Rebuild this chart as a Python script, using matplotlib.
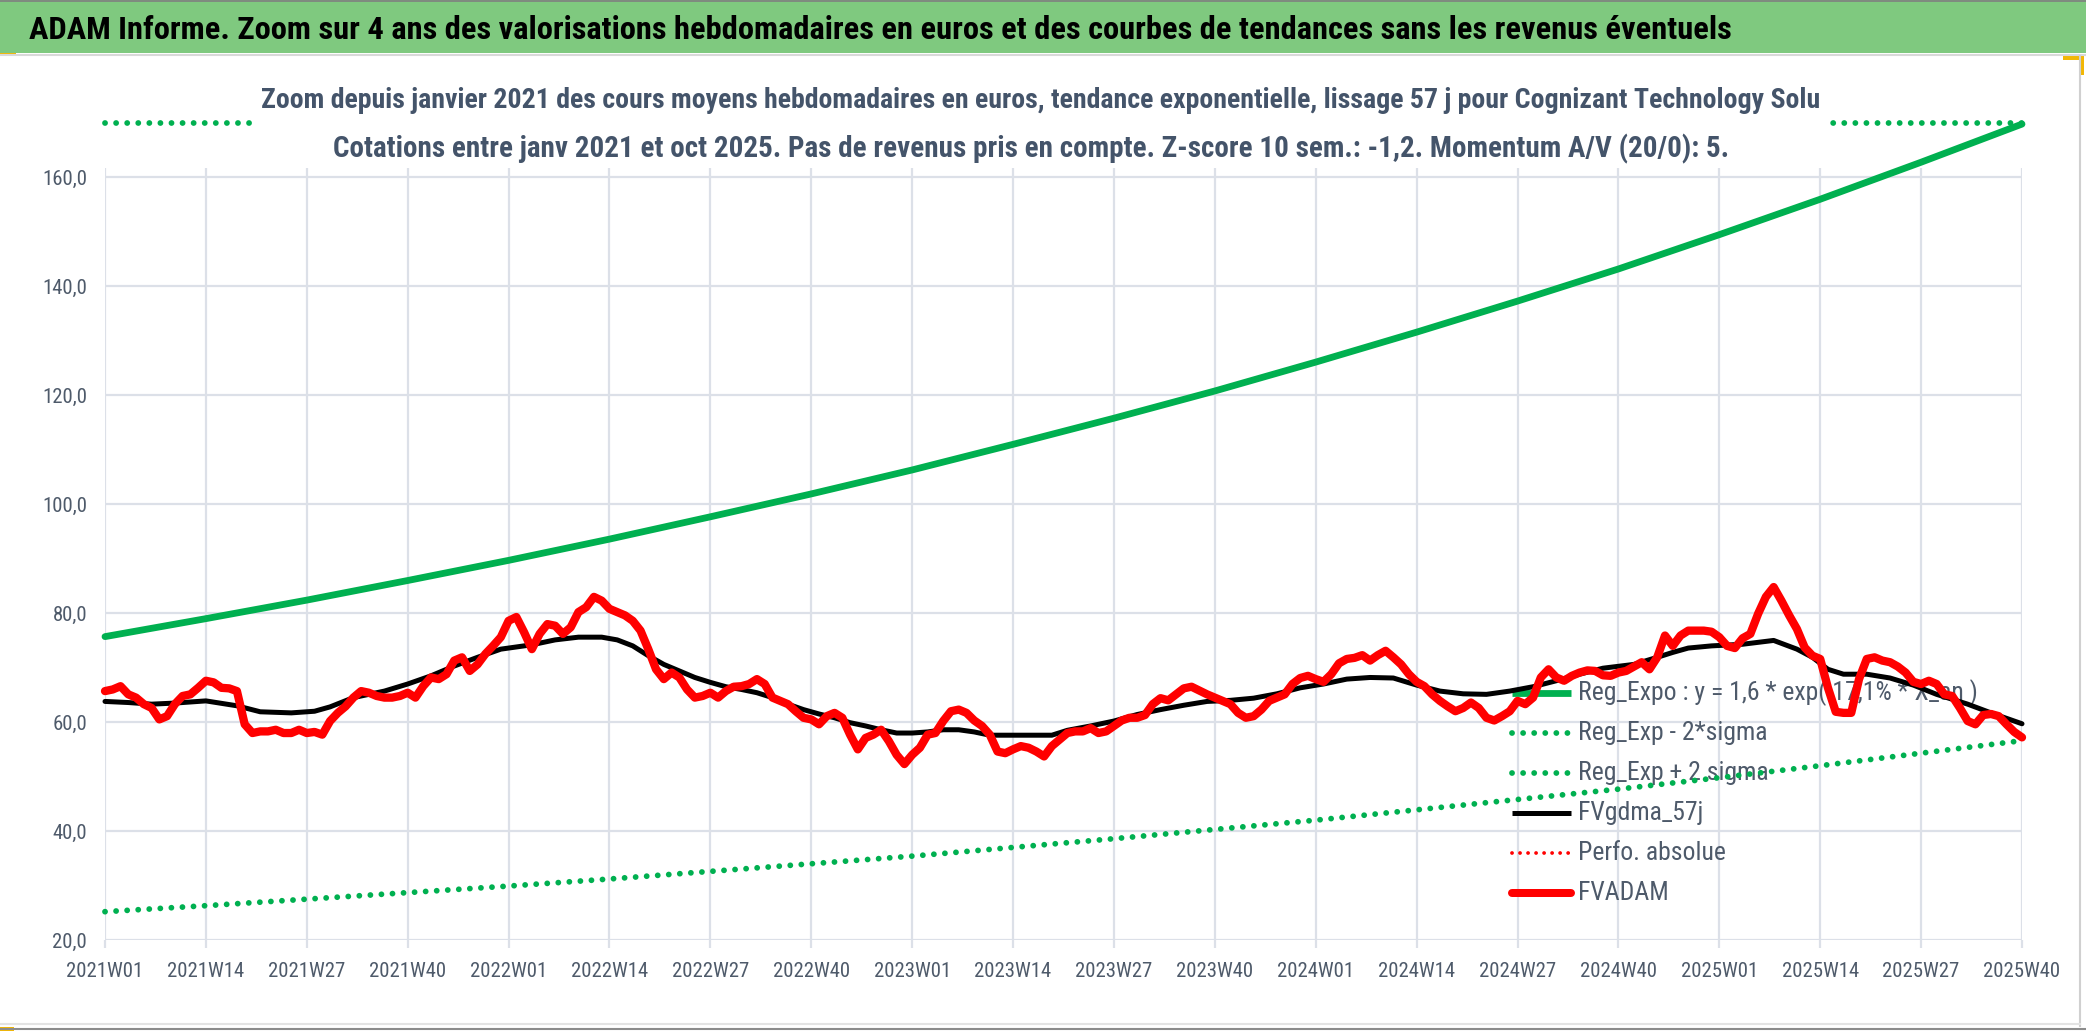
import numpy as np
import matplotlib
matplotlib.use("Agg")
import matplotlib.pyplot as plt
from matplotlib import font_manager as fm
from matplotlib.lines import Line2D
from matplotlib.patches import Rectangle

# ---------------- data ----------------
tick_labels = ["2021W01", "2021W14", "2021W27", "2021W40",
               "2022W01", "2022W14", "2022W27", "2022W40",
               "2023W01", "2023W14", "2023W27", "2023W40",
               "2024W01", "2024W14", "2024W27", "2024W40",
               "2025W01", "2025W14", "2025W27", "2025W40"]
tick_weeks = [0, 13, 26, 39, 52, 65, 78, 91, 104, 117, 130, 143,
              156, 169, 182, 195, 208, 221, 234, 247]

# exponential trend and +/- 2 sigma bands, read at each tick
reg_expo = [75.7, 79.0, 82.4, 86.0, 89.7, 93.6, 97.7, 101.9, 106.3, 111.0,
            115.8, 120.8, 126.1, 131.6, 137.3, 143.2, 149.5, 156.0, 162.8, 169.8]
reg_minus = [25.2, 26.3, 27.5, 28.7, 29.9, 31.2, 32.6, 34.0, 35.4, 37.0,
             38.6, 40.3, 42.0, 43.9, 45.8, 47.7, 49.8, 52.0, 54.3, 56.6]
reg_plus = [227, 237, 247, 258, 269, 281, 293, 306, 319, 333,
            347, 362, 378, 395, 412, 430, 449, 468, 488, 509]

# weekly average price (248 weeks, 2021W01 .. 2025W40)
fvadam = [
    65.7, 66.0, 66.6, 65.1, 64.5, 63.3, 62.6, 60.5, 61.1, 63.3, 64.8, 65.1, 66.3,
    67.6, 67.3, 66.3, 66.2, 65.7, 59.6, 58.0, 58.3, 58.3, 58.6, 58.0, 58.0, 58.6,
    58.0, 58.2, 57.7, 60.2, 61.7, 62.9, 64.5, 65.7, 65.4, 64.8, 64.5, 64.5, 64.8,
    65.4, 64.5, 66.6, 68.2, 67.9, 68.8, 71.3, 71.9, 69.4, 70.6, 72.5, 74.0, 75.6,
    78.6, 79.3, 76.5, 73.4, 76.2, 78.0, 77.7, 76.2, 77.4, 80.2, 81.1, 83.0, 82.3,
    80.8, 80.2, 79.6, 78.6, 76.8, 73.4, 69.7, 67.9, 69.1, 68.2, 66.0, 64.5, 64.8,
    65.4, 64.5, 65.7, 66.5, 66.6, 67.0, 67.9, 67.0, 64.5, 63.9, 63.3, 62.0, 60.8,
    60.5, 59.6, 61.1, 61.7, 60.8, 57.7, 55.0, 57.1, 57.7, 58.6, 56.5, 54.0, 52.3,
    54.0, 55.3, 57.7, 58.0, 60.2, 62.0, 62.3, 61.7, 60.3, 59.3, 57.7, 54.6, 54.3,
    55.0, 55.6, 55.3, 54.6, 53.7, 55.6, 56.8, 58.0, 58.3, 58.3, 58.9, 58.0, 58.3,
    59.3, 60.3, 60.8, 60.8, 61.3, 63.3, 64.4, 64.0, 65.1, 66.2, 66.5, 65.8, 65.1,
    64.5, 63.9, 63.3, 61.7, 60.8, 61.1, 62.3, 63.9, 64.5, 65.1, 67.0, 68.1, 68.5,
    67.9, 67.4, 68.8, 70.8, 71.6, 71.8, 72.3, 71.3, 72.3, 73.1, 71.9, 70.6, 68.8,
    67.4, 66.6, 65.1, 63.9, 62.9, 62.0, 62.6, 63.6, 62.6, 60.8, 60.3, 61.1, 62.0,
    63.9, 63.3, 64.5, 68.2, 69.7, 68.2, 67.6, 68.5, 69.1, 69.5, 69.4, 68.6, 68.5,
    69.1, 69.4, 70.2, 71.0, 69.7, 71.9, 75.9, 74.0, 75.9, 76.8, 76.8, 76.8, 76.6,
    75.6, 74.0, 73.6, 75.4, 76.2, 79.9, 83.0, 84.8, 82.3, 79.6, 77.1, 73.7, 72.2,
    71.6, 66.3, 61.9, 61.7, 61.7, 67.9, 71.6, 71.9, 71.3, 71.0, 70.2, 69.1, 67.4,
    67.0, 67.6, 67.0, 65.1, 64.8, 62.6, 60.2, 59.6, 61.3, 61.5, 61.1, 59.6, 58.2,
    57.2]

# 57-day smoothed average (read at sample weeks)
gdma_weeks = [0, 3, 6, 9, 13, 17, 20, 24, 27, 29, 32, 36, 39, 42, 45, 48, 51, 55,
              58, 61, 64, 66, 68, 70, 72, 74, 76, 78, 80, 82, 84, 86, 88, 90, 92,
              94, 96, 98, 100, 102, 104, 106, 108, 110, 112, 114, 118, 122, 124,
              127, 130, 133, 136, 139, 142, 145, 148, 151, 154, 157, 160, 163,
              166, 169, 172, 175, 178, 181, 184, 187, 190, 193, 197, 200, 202,
              204, 207, 211, 215, 218, 220, 222, 224, 227, 230, 233, 236, 240,
              243, 246, 247]
gdma_vals = [63.8, 63.6, 63.3, 63.5, 63.9, 63.0, 61.9, 61.7, 62.0, 62.8, 64.5, 65.7,
             67.0, 68.5, 70.3, 71.9, 73.4, 74.2, 75.1, 75.6, 75.6, 75.1, 74.0, 72.2,
             70.6, 69.4, 68.2, 67.3, 66.5, 66.0, 65.4, 64.5, 63.3, 62.3, 61.5, 60.8,
             59.9, 59.3, 58.6, 58.0, 58.0, 58.2, 58.6, 58.6, 58.2, 57.6, 57.6, 57.6,
             58.5, 59.3, 60.2, 61.4, 62.3, 63.1, 63.8, 64.0, 64.4, 65.2, 66.3, 67.0,
             67.9, 68.2, 68.1, 66.8, 65.7, 65.2, 65.1, 65.7, 66.5, 67.6, 68.8, 69.9,
             70.6, 71.9, 72.8, 73.6, 74.0, 74.3, 75.0, 73.4, 71.9, 69.7, 68.8, 68.8,
             68.1, 66.8, 65.1, 63.3, 61.7, 60.2, 59.7]

perfo_weeks = []   # "Perfo. absolue" : no visible point in this zoom
perfo_vals = []

y_ticks = [20, 40, 60, 80, 100, 120, 140, 160]

legend_labels = ["Reg_Expo : y = 1,6 * exp( 17,1% * X_an )",
                 "Reg_Exp - 2*sigma",
                 "Reg_Exp + 2 sigma",
                 "FVgdma_57j",
                 "Perfo. absolue",
                 "FVADAM"]

title = ("ADAM Informe. Zoom sur 4 ans des valorisations hebdomadaires en euros "
         "et des courbes de tendances sans les revenus éventuels")
sub1 = ("Zoom depuis janvier 2021 des cours moyens hebdomadaires en euros, tendance "
        "exponentielle, lissage 57 j pour Cognizant Technology Solu")
sub2 = ("Cotations entre janv 2021 et oct 2025. Pas de revenus pris en compte. "
        "Z-score 10 sem.: -1,2. Momentum A/V (20/0): 5.")

# ---------------- fonts ----------------
W, H, DPI = 2086, 1031, 100
entries = fm.fontManager.ttflist
names = {f.name for f in entries}
BASE = "Lato" if "Lato" in names else "DejaVu Sans"
FONT, STRETCH = BASE, "normal"
for cand in ["Liberation Sans Narrow", "Roboto Condensed", "Open Sans Condensed",
             "Noto Sans Condensed", "Lato Condensed"]:
    if cand in names:
        FONT = cand
        break
else:
    if any(f.name == "DejaVu Sans" and str(f.stretch) in ("condensed", "semi-condensed")
           for f in entries):
        FONT, STRETCH = "DejaVu Sans", "condensed"
plt.rcParams["font.family"] = [FONT, BASE, "DejaVu Sans"]
plt.rcParams["font.stretch"] = STRETCH

GREEN = "#00B050"
RED = "#FF0000"
GRID = "#DCE0E8"
TXT = "#4E5A6A"
SUBTXT = "#44546A"
BAND = "#7FC97F"


def px(v):  # pixels -> points
    return v * 72.0 / DPI


def fx(x):  # pixel x -> figure fraction
    return x / W


def fy(y):  # pixel y from top -> figure fraction
    return 1 - y / H


fig = plt.figure(figsize=(W / DPI, H / DPI), dpi=DPI)
fig.patch.set_facecolor("white")
renderer = fig.canvas.get_renderer()


def fit(t, target):
    for _ in range(3):
        bb = t.get_window_extent(renderer)
        t.set_fontsize(t.get_fontsize() * target / bb.width)


# title band
fig.add_artist(Rectangle((0, fy(53)), 1, 53 / H, transform=fig.transFigure,
                         facecolor=BAND, edgecolor="none", zorder=0))
fig.add_artist(Line2D([0, 1], [fy(0.5), fy(0.5)], transform=fig.transFigure,
                      color="#7F7F7F", lw=1.2))
fig.add_artist(Line2D([0, 1], [fy(55), fy(55)], transform=fig.transFigure,
                      color="#D9D9D9", lw=1.5))
fig.add_artist(Rectangle((0, fy(56)), fx(16), 3 / H, transform=fig.transFigure,
                         facecolor="#F2B705", edgecolor="none"))
# chart frame
fig.add_artist(Line2D([fx(2080), fx(2080)], [fy(56), fy(1026)], transform=fig.transFigure,
                      color="#D0D0D0", lw=1.5))
fig.add_artist(Line2D([0, fx(2080)], [fy(1024), fy(1024)], transform=fig.transFigure,
                      color="#E3E3E3", lw=1.5))
fig.add_artist(Line2D([0, 1], [fy(1029), fy(1029)], transform=fig.transFigure,
                      color="#8C8C8C", lw=1.5))
fig.add_artist(Rectangle((0, fy(1031)), fx(14), 4 / H, transform=fig.transFigure,
                         facecolor="#F2B705", edgecolor="none"))
fig.add_artist(Rectangle((fx(2063), fy(60)), fx(17), 4 / H, transform=fig.transFigure,
                         facecolor="#F2B705", edgecolor="none"))
fig.add_artist(Rectangle((fx(2080), fy(75)), fx(4), 19 / H, transform=fig.transFigure,
                         facecolor="#F2B705", edgecolor="none"))

t = fig.text(fx(29), fy(30), title, fontsize=20, fontweight="bold", color="black",
             ha="left", va="center")
fit(t, 1704)

# subtitle (white box hides the clipped top band)
fig.add_artist(Rectangle((fx(253), fy(168)), fx(1827 - 253), 98 / H,
                         transform=fig.transFigure, facecolor="white",
                         edgecolor="none", zorder=5))
s1 = fig.text(fx(1041), fy(100), sub1, fontsize=16, color=SUBTXT, ha="center",
              va="center", zorder=6, fontweight="bold")
fit(s1, 1557)
s2 = fig.text(fx(1031), fy(149), sub2, fontsize=16, color=SUBTXT, ha="center",
              va="center", zorder=6, fontweight="bold")
fit(s2, 1396)

# ---------------- axes ----------------
L, R, T, B = 105, 2022, 123, 940
ax = fig.add_axes([fx(L), fy(B), (R - L) / W, (B - T) / H])
ax.set_facecolor("none")
YMIN, YMAX = 20, 170
ax.set_xlim(0, 247)
ax.set_ylim(YMIN, YMAX)
for s in ax.spines.values():
    s.set_visible(False)

# gridlines
ax.hlines(y_ticks, 0, 247, color=GRID, lw=px(2.2), zorder=1)
ax.vlines(tick_weeks, YMIN, 161.8, color=GRID, lw=px(2.2), zorder=1)

ax.set_xticks(tick_weeks)
ax.set_xticklabels(tick_labels)
ax.set_yticks(y_ticks)
ax.set_yticklabels([f"{v:.1f}".replace(".", ",") for v in y_ticks])
tmp = fig.text(0, 0, "2021W01", fontsize=14)
fit(tmp, 77)
tfs = tmp.get_fontsize()
tmp.remove()
ax.tick_params(axis="x", length=px(8), width=px(2.2), color=GRID, pad=px(14),
               labelsize=tfs, labelcolor=TXT)
ax.tick_params(axis="y", length=0, pad=px(18), labelsize=tfs, labelcolor=TXT)

weeks = np.arange(len(fvadam))
DOT = (0, (0.01, 1.9))

ax.plot(tick_weeks, reg_expo, color=GREEN, lw=px(6.8), solid_capstyle="round",
        zorder=3, clip_on=False)
ax.plot(tick_weeks, reg_minus, color=GREEN, lw=px(5.8), linestyle=DOT,
        dash_capstyle="round", zorder=3, clip_on=False)
ax.plot(tick_weeks, np.minimum(np.array(reg_plus, float), YMAX), color=GREEN,
        lw=px(5.8), linestyle=DOT, dash_capstyle="round", zorder=3, clip_on=False)
ax.plot(gdma_weeks, gdma_vals, color="black", lw=px(5), solid_joinstyle="round",
        solid_capstyle="round", zorder=3, clip_on=False)
ax.plot(perfo_weeks, perfo_vals, color=RED, lw=px(3.5), linestyle=DOT,
        dash_capstyle="round", zorder=3)
ax.plot(weeks, fvadam, color=RED, lw=px(8.3), solid_joinstyle="round",
        solid_capstyle="round", zorder=4, clip_on=False)

# ---------------- legend (beneath the series lines) ----------------
styles = [dict(color=GREEN, lw=px(6.8), solid_capstyle="butt"),
          dict(color=GREEN, lw=px(5.8), linestyle=DOT, dash_capstyle="round"),
          dict(color=GREEN, lw=px(5.8), linestyle=DOT, dash_capstyle="round"),
          dict(color="black", lw=px(5), solid_capstyle="butt"),
          dict(color=RED, lw=px(3.8), linestyle=(0, (0.01, 2.1)), dash_capstyle="round"),
          dict(color=RED, lw=px(8), solid_capstyle="round")]
leg_texts = []
for i, (lab, st) in enumerate(zip(legend_labels, styles)):
    yy = 693 + 40 * i
    ax.add_line(Line2D([fx(1512), fx(1571)], [fy(yy), fy(yy)],
                       transform=fig.transFigure, clip_on=False, zorder=2, **st))
    tt = ax.text(fx(1578), fy(yy), lab, transform=fig.transFigure, fontsize=16,
                 color=TXT, ha="left", va="center", zorder=2, clip_on=False)
    leg_texts.append(tt)
fit(leg_texts[0], 400)
for tt in leg_texts[1:]:
    tt.set_fontsize(leg_texts[0].get_fontsize())

fig.savefig("out.png", dpi=DPI, facecolor="white")
